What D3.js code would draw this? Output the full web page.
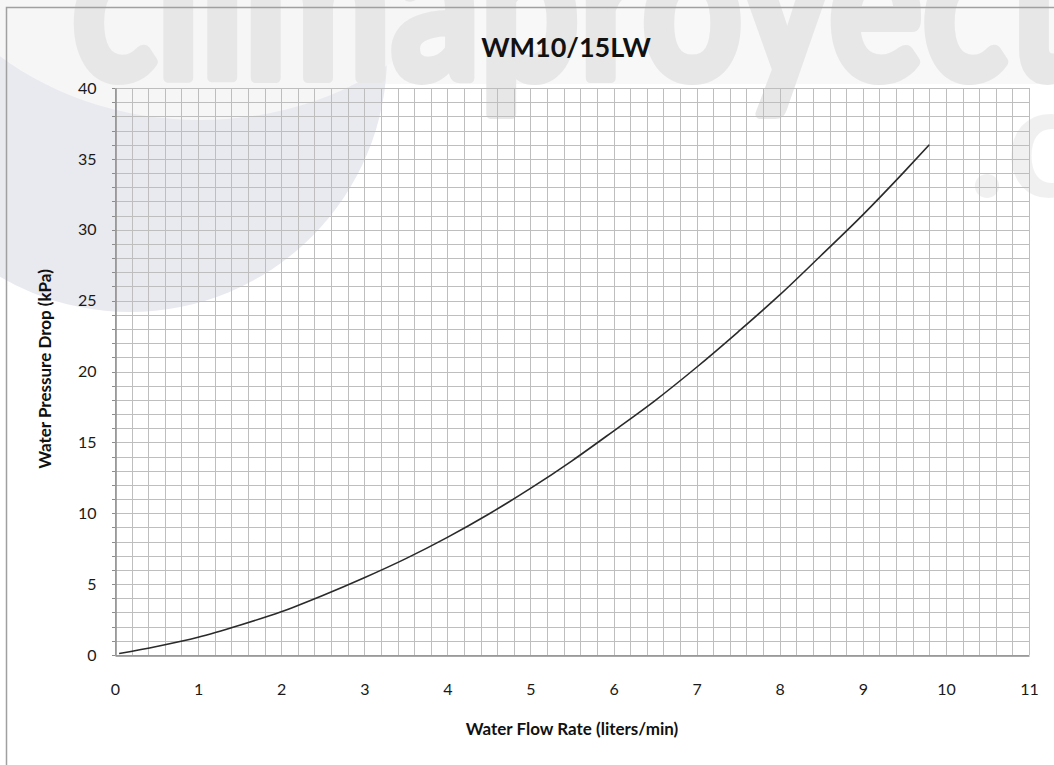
<!DOCTYPE html>
<html>
<head>
<meta charset="utf-8">
<script src="https://cdn.jsdelivr.net/npm/d3@7"></script>
<style>
  html, body { margin: 0; padding: 0; background: #fff; }
  svg { display: block; }
  text { font-family: Lato, "Open Sans", sans-serif; }
</style>
</head>
<body>
<svg id="chart" width="1054" height="765"></svg>
<script>
// ---- data ----
const title = "WM10/15LW";
const xLabel = "Water Flow Rate (liters/min)";
const yLabel = "Water Pressure Drop (kPa)";
const flowRate = [0.05, 0.5, 1, 1.5, 2, 2.5, 3, 3.5, 4, 4.5, 5, 5.5, 6, 6.5, 7, 7.5, 8, 8.5, 9, 9.5, 9.8];
const pressureDrop = [0.1, 0.6, 1.25, 2.1, 3.05, 4.2, 5.45, 6.8, 8.3, 9.95, 11.75, 13.7, 15.8, 17.95, 20.3, 22.8, 25.4, 28.2, 31.05, 34.1, 36.0];
const xTicks = [0, 1, 2, 3, 4, 5, 6, 7, 8, 9, 10, 11];
const yTicks = [0, 5, 10, 15, 20, 25, 30, 35, 40];
const watermark = "climaproyect";

const svg = d3.select("#chart");
const W = 1054, H = 765;
const plot = { left: 115, right: 1029, top: 88, bottom: 655 };

const x = d3.scaleLinear().domain([0, 11]).range([plot.left, plot.right]);
const y = d3.scaleLinear().domain([0, 40]).range([plot.bottom, plot.top]);

svg.append("rect").attr("width", W).attr("height", H).attr("fill", "#fff");

// ---- watermark (background decoration) ----
const wm = svg.append("g");
wm.append("rect").attr("x", 0).attr("y", 0).attr("width", W).attr("height", 84).attr("fill", "#f8f8f8");
wm.append("circle").attr("cx", 130).attr("cy", 55).attr("r", 257).attr("fill", "#e9e9f0");
wm.append("ellipse").attr("cx", 200).attr("cy", -130).attr("rx", 300).attr("ry", 250).attr("fill", "#f6f6f7");
wm.append("text").attr("x", 72).attr("y", 78)
  .attr("font-family", "'DejaVu Sans Condensed', 'DejaVu Sans', sans-serif")
  .attr("font-weight", "bold").attr("font-size", 215)
  .attr("textLength", 1000).attr("lengthAdjust", "spacingAndGlyphs")
  .attr("fill", "#e7e7e7").attr("stroke", "#e7e7e7").attr("stroke-width", 10)
  .attr("stroke-linejoin", "round")
  .text(watermark);
wm.append("text").attr("x", 968).attr("y", 197)
  .attr("font-family", "'DejaVu Sans Condensed', 'DejaVu Sans', sans-serif")
  .attr("font-weight", "bold").attr("font-size", 160)
  .attr("fill", "#000").attr("fill-opacity", 0.06).text(".c");

// outer frame
svg.append("path").attr("d", `M6.5,${H} V7.5 H${W}`).attr("fill", "none").attr("stroke", "#a0a0a0").attr("stroke-width", 1.5);

// ---- grid ----
const grid = svg.append("g").attr("stroke", "#bebebe").attr("stroke-width", 1).attr("shape-rendering", "crispEdges");
const xMinor = d3.range(0, 55 + 1).map(i => i * 0.2);
const yMinor = d3.range(0, 41);
grid.selectAll("line.v").data(xMinor).join("line").attr("class", "v")
  .attr("x1", d => Math.round(x(d)) + 0.5).attr("x2", d => Math.round(x(d)) + 0.5)
  .attr("y1", plot.top).attr("y2", plot.bottom);
grid.selectAll("line.h").data(yMinor).join("line").attr("class", "h")
  .attr("y1", d => Math.round(y(d)) + 0.5).attr("y2", d => Math.round(y(d)) + 0.5)
  .attr("x1", plot.left).attr("x2", plot.right);

// ---- axes ----
const xAxis = svg.append("g").attr("transform", `translate(0,${plot.bottom + 0.5})`)
  .call(d3.axisBottom(x).tickValues(xTicks).tickSize(0).tickPadding(28).tickFormat(d3.format("d")));
xAxis.select(".domain").attr("stroke", "#8c8c8c").attr("stroke-width", 1.5);
xAxis.selectAll("text").attr("font-size", 16).attr("fill", "#1a1a1a").attr("font-family", "Lato, sans-serif");

const yAxis = svg.append("g").attr("transform", `translate(${plot.left + 0.5},0)`)
  .call(d3.axisLeft(y).tickValues(yTicks).tickSize(0).tickPadding(19).tickFormat(d3.format("d")));
yAxis.select(".domain").attr("stroke", "#8c8c8c").attr("stroke-width", 1.5);
yAxis.selectAll("text").attr("font-size", 16).attr("fill", "#1a1a1a").attr("font-family", "Lato, sans-serif");

// small y tick marks at each unit
svg.append("g").attr("stroke", "#8c8c8c").attr("shape-rendering", "crispEdges")
  .selectAll("line").data(yMinor).join("line")
  .attr("x1", plot.left - 3).attr("x2", plot.left)
  .attr("y1", d => Math.round(y(d)) + 0.5).attr("y2", d => Math.round(y(d)) + 0.5);

// ---- curve ----
const pts = flowRate.map((v, i) => [v, pressureDrop[i]]);
svg.append("path").datum(pts)
  .attr("fill", "none").attr("stroke", "#2a2a2a").attr("stroke-width", 1.6)
  .attr("d", d3.line().x(d => x(d[0])).y(d => y(d[1])).curve(d3.curveMonotoneX));

// ---- titles ----
svg.append("text").attr("x", 566).attr("y", 57).attr("text-anchor", "middle")
  .attr("font-size", 27).attr("font-weight", "bold").attr("fill", "#111").text(title);
svg.append("text").attr("x", 572).attr("y", 735).attr("text-anchor", "middle")
  .attr("font-size", 17).attr("font-weight", "bold").attr("fill", "#111").text(xLabel);
svg.append("text").attr("transform", "translate(51,369) rotate(-90)").attr("text-anchor", "middle")
  .attr("font-size", 17).attr("font-weight", "bold").attr("fill", "#111").text(yLabel);
</script>
</body>
</html>
